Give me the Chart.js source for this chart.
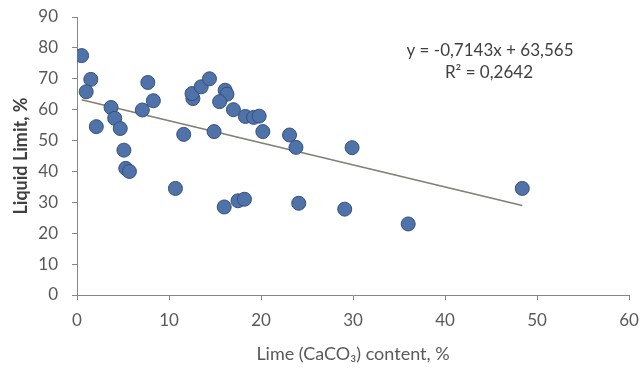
<!DOCTYPE html>
<html>
<head>
<meta charset="utf-8">
<script src="https://cdn.jsdelivr.net/npm/chart.js@4.4.1/dist/chart.umd.min.js"></script>
<style>
  html, body { margin: 0; padding: 0; background: #fff; }
  #wrap { width: 640px; height: 370px; }
</style>
</head>
<body>
<div id="wrap"><canvas id="limeChart"></canvas></div>
<script>
// Lime content (%) and liquid limit (%)
const limeContent = [0.5, 1.5, 1.0, 2.1, 3.7, 4.1, 4.7, 5.1, 5.3, 5.7, 7.7, 8.3, 7.1, 11.6, 10.7,
  16.0, 17.5, 18.2, 12.6, 12.5, 13.5, 14.4, 14.9, 16.1, 16.3, 15.5, 17.0, 18.3, 19.2, 19.8,
  20.2, 23.1, 23.8, 29.9, 24.1, 29.1, 36.0, 48.4];
const liquidLimit = [77.5, 69.8, 65.8, 54.5, 60.7, 57.2, 53.9, 46.9, 41, 40, 68.8, 62.9, 59.9, 52, 34.5,
  28.5, 30.5, 31, 63.6, 65.2, 67.4, 70, 52.9, 66.3, 65, 62.6, 60, 57.8, 57.5, 57.9,
  52.9, 51.8, 47.8, 47.7, 29.7, 27.8, 23.0, 34.5];

// trendline printed on the chart
const slope = -0.7143;
const intercept = 63.565;
const eqLines = ['y = -0,7143x + 63,565', 'R² = 0,2642'];

const points = limeContent.map((x, i) => ({ x: x, y: liquidLimit[i] }));
const xMin = Math.min(...limeContent);
const xMax = Math.max(...limeContent);
const trend = [
  { x: xMin, y: slope * xMin + intercept },
  { x: xMax, y: slope * xMax + intercept }
];

const axisGrey = '#868686';
const textGrey = '#595959';

const equationLabel = {
  id: 'equationLabel',
  afterDraw(chart) {
    const c = chart.ctx;
    c.save();
    c.font = '17px Lato, "Liberation Sans", sans-serif';
    c.fillStyle = '#404040';
    c.textAlign = 'center';
    c.textBaseline = 'middle';
    c.fillText(eqLines[0], 490, 51);
    c.fillText(eqLines[1], 489, 73);
    c.restore();
  }
};

new Chart(document.getElementById('limeChart'), {
  type: 'scatter',
  data: {
    datasets: [
      {
        label: 'Liquid Limit',
        data: points,
        backgroundColor: 'rgb(79, 114, 168)',
        borderColor: 'rgb(52, 80, 124)',
        borderWidth: 1,
        pointRadius: 7,
        order: 1
      },
      {
        type: 'line',
        label: 'Linear',
        data: trend,
        borderColor: '#7f7f72',
        borderWidth: 1.5,
        pointRadius: 0,
        fill: false,
        order: 2
      }
    ]
  },
  options: {
    responsive: true,
    maintainAspectRatio: false,
    animation: false,
    layout: { padding: { left: 4, right: 0, top: 17, bottom: 5 } },
    plugins: {
      legend: { display: false },
      tooltip: { enabled: false }
    },
    scales: {
      x: {
        type: 'linear',
        min: 0,
        max: 60,
        afterFit(scale) {
          scale.height = 70;
          scale.paddingLeft = 0;
          scale.paddingRight = 11;
        },
        ticks: { stepSize: 10, color: textGrey, padding: 10, maxRotation: 0, font: { family: 'Lato', size: 17 } },
        grid: { drawOnChartArea: false, drawTicks: true, tickLength: 5, color: axisGrey },
        border: { color: axisGrey },
        title: {
          display: true,
          text: 'Lime (CaCO₃) content, %',
          color: textGrey,
          padding: { top: 13, bottom: 0 },
          font: { family: 'Lato', size: 18 }
        }
      },
      y: {
        min: 0,
        max: 90,
        afterFit(scale) {
          scale.width = 73;
          scale.paddingTop = 8;
          scale.paddingBottom = 8;
        },
        ticks: { stepSize: 10, color: textGrey, padding: 14, font: { family: 'Lato', size: 17 } },
        grid: { drawOnChartArea: false, drawTicks: true, tickLength: 5, color: axisGrey },
        border: { color: axisGrey },
        title: {
          display: true,
          text: 'Liquid Limit, %',
          color: '#404040',
          padding: { top: 6, bottom: 0 },
          font: { family: 'Lato', size: 18, weight: 'bold' }
        }
      }
    }
  },
  plugins: [equationLabel]
});
</script>
</body>
</html>
